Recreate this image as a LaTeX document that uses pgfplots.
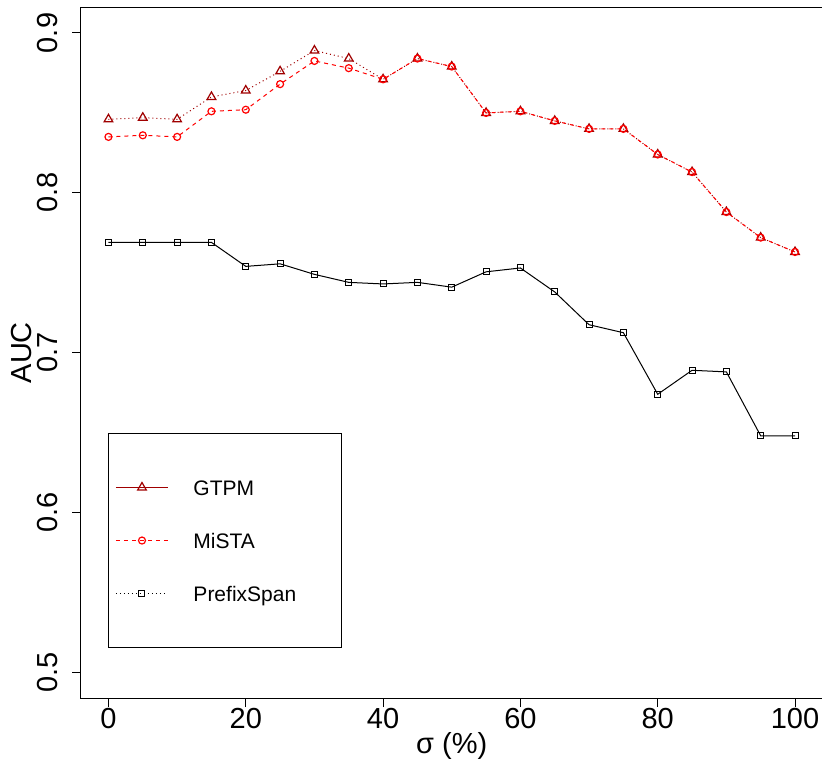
\documentclass[border=0pt]{standalone}
\usepackage{pgfplots}
\pgfplotsset{compat=1.18}
\usepackage{fontspec}
\setmainfont{Liberation Sans}
\definecolor{gtpm}{RGB}{160,0,0}
\definecolor{mista}{RGB}{255,0,0}
\begin{document}
\begin{tikzpicture}
\path[use as bounding box] (-81pt,-66pt) rectangle (741pt,698pt);
\begin{axis}[
  scale only axis,
  width=741.5pt, height=690.6pt,
  xmin=-4, xmax=104, ymin=0.484, ymax=0.916,
  xtick={0,20,40,60,80,100},
  ytick={0.5,0.6,0.7,0.8,0.9},
  yticklabels={0.5,0.6,0.7,0.8,0.9},
  axis line style={line width=1pt},
  tick align=outside, tick pos=left,
  major tick length=9pt,
  every tick/.style={black, line width=1pt},
  /pgf/number format/assume math mode=true,
  tick label style={font=\fontsize{29}{34}\selectfont, inner sep=0pt},
  xticklabel style={anchor=north, yshift=-1pt},
  yticklabel style={rotate=90, anchor=south},
  yticklabel shift=14pt,
  xlabel={σ (\%)},
  ylabel={AUC},
  every axis x label/.style={at={([yshift=-55.5pt]axis description cs:0.5,0)}, anchor=base, font=\fontsize{29}{34}\selectfont, inner sep=0pt},
  every axis y label/.style={at={([xshift=-59pt]axis description cs:0,0.5)}, rotate=90, anchor=center, font=\fontsize{29}{34}\selectfont, inner sep=0pt},
  legend style={at={(axis description cs:0.0364,0.3837)}, anchor=north west,
    draw=black, line width=1pt, inner xsep=7pt, inner ysep=46.5pt,
    row sep=38pt, column sep=0pt,
    font=\fontsize{21}{25}\selectfont,
    nodes={inner sep=0pt, text height=15pt, text depth=0pt}},
  legend cell align=left,
  legend image code/.code={\draw[mark repeat=2,mark phase=2] plot coordinates {(0pt,0pt) (26pt,0pt) (52pt,0pt)};},
  every axis legend/.append style={cells={anchor=west}},
]
\addlegendimage{color=gtpm, solid, line width=1pt, mark=triangle, mark size=5pt, mark options={solid, line width=1.2pt}}
\addlegendentry{\hspace{25pt}\makebox[141pt][l]{GTPM}}
\addlegendimage{color=mista, dash pattern=on 4pt off 4pt, line width=1pt, mark=o, mark size=3.5pt, mark options={solid, line width=1.2pt}}
\addlegendentry{\hspace{25pt}\makebox[141pt][l]{MiSTA}}
\addlegendimage{color=black, dash pattern=on 1pt off 3pt, line width=1pt, mark=square, mark size=3pt, mark options={solid, line width=1pt}}
\addlegendentry{\hspace{25pt}\makebox[141pt][l]{PrefixSpan}}

\addplot[forget plot, gtpm, dash pattern=on 1pt off 3pt, line width=1pt, mark=triangle, mark size=5pt, mark options={solid, line width=1.2pt}] coordinates {
(0,0.846) (5,0.847) (10,0.846) (15,0.860) (20,0.864) (25,0.876) (30,0.889) (35,0.884) (40,0.871) (45,0.884) (50,0.879) (55,0.850) (60,0.851) (65,0.845) (70,0.840) (75,0.840) (80,0.824) (85,0.813) (90,0.788) (95,0.772) (100,0.763)};
\addplot[forget plot, mista, dash pattern=on 4pt off 4pt, line width=1pt, mark=o, mark size=3.5pt, mark options={solid, line width=1.2pt}] coordinates {
(0,0.835) (5,0.836) (10,0.835) (15,0.851) (20,0.852) (25,0.868) (30,0.8825) (35,0.878) (40,0.871) (45,0.884) (50,0.879) (55,0.850) (60,0.851) (65,0.845) (70,0.840) (75,0.840) (80,0.824) (85,0.813) (90,0.788) (95,0.772) (100,0.763)};
\addplot[forget plot, black, solid, line width=1pt, mark=square, mark size=3pt, mark options={solid, line width=1pt}] coordinates {
(0,0.769) (5,0.769) (10,0.769) (15,0.769) (20,0.754) (25,0.7556) (30,0.749) (35,0.744) (40,0.743) (45,0.744) (50,0.741) (55,0.7506) (60,0.753) (65,0.738) (70,0.7175) (75,0.7125) (80,0.674) (85,0.689) (90,0.688) (95,0.648) (100,0.648)};
\end{axis}
\end{tikzpicture}
\end{document}
